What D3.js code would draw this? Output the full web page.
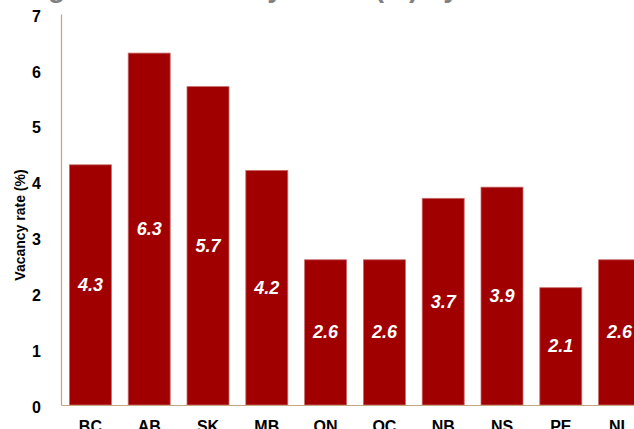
<!DOCTYPE html>
<html>
<head>
<meta charset="utf-8">
<script src="https://cdn.jsdelivr.net/npm/d3@7"></script>
<style>
  html, body { margin: 0; padding: 0; background: #fff; }
  svg { display: block; font-family: Arial, "Liberation Sans", sans-serif; }
</style>
</head>
<body>
<svg id="chart" width="634" height="429"></svg>
<script>
// Apartment vacancy rate by province
const provinces = ["BC", "AB", "SK", "MB", "ON", "QC", "NB", "NS", "PE", "NL"];
const vacancyRates = [4.3, 6.3, 5.7, 4.2, 2.6, 2.6, 3.7, 3.9, 2.1, 2.6];
const yTicks = [0, 1, 2, 3, 4, 5, 6, 7];
const chartTitle = "Housing Market Vacancy Rates (%) by Province";
const yAxisTitle = "Vacancy rate (%)";

const svg = d3.select("#chart");
const plotLeft = 61, plotRight = 649, plotTop = 14, plotBottom = 405;
const axisColor = "#c4a57c";
const barColor = "#a00000";

const x = d3.scaleBand()
  .domain(provinces)
  .range([plotLeft, plotRight])
  .paddingInner(0.286)
  .paddingOuter(0.143);

const y = d3.scaleLinear().domain([0, 7]).range([plotBottom, plotTop]);

// title (sits mostly above the visible area)
svg.append("text")
  .attr("x", -47)
  .attr("y", -3)
  .attr("font-size", 28)
  .attr("font-weight", "bold")
  .attr("fill", "#808080")
  .text(chartTitle);

// bars
svg.append("g")
  .selectAll("rect")
  .data(provinces)
  .join("rect")
  .attr("x", d => x(d))
  .attr("width", x.bandwidth())
  .attr("y", (d, i) => y(vacancyRates[i]))
  .attr("height", (d, i) => y(0) - y(vacancyRates[i]))
  .attr("fill", barColor)
  .attr("stroke", "#c86a6a")
  .attr("stroke-width", 0.8);

// value labels inside bars
svg.append("g")
  .selectAll("text")
  .data(provinces)
  .join("text")
  .attr("x", d => x(d) + x.bandwidth() / 2)
  .attr("y", (d, i) => (y(vacancyRates[i]) + y(0)) / 2 + 6)
  .attr("text-anchor", "middle")
  .attr("font-size", 18)
  .attr("font-weight", "bold")
  .attr("font-style", "italic")
  .attr("fill", "#fff")
  .text((d, i) => vacancyRates[i].toFixed(1));

// y axis
const yAxis = svg.append("g")
  .attr("transform", `translate(${plotLeft},0)`)
  .call(d3.axisLeft(y).tickValues(yTicks).tickSize(0).tickPadding(20).tickFormat(d3.format("d")));
yAxis.select(".domain").attr("stroke", axisColor).attr("stroke-width", 1.2);
yAxis.selectAll("text")
  .attr("font-size", 16)
  .attr("font-weight", "bold")
  .attr("fill", "#000")
  .attr("font-family", "Arial, 'Liberation Sans', sans-serif")
  .attr("dy", "0.45em");

// x axis
const xAxis = svg.append("g")
  .attr("transform", `translate(0,${plotBottom})`)
  .call(d3.axisBottom(x).tickSize(0).tickPadding(16));
xAxis.select(".domain").attr("stroke", axisColor).attr("stroke-width", 1.2);
xAxis.selectAll("text")
  .attr("font-size", 16)
  .attr("font-weight", "bold")
  .attr("fill", "#000")
  .attr("font-family", "Arial, 'Liberation Sans', sans-serif");

// y axis title
svg.append("text")
  .attr("transform", "translate(25,225) rotate(-90)")
  .attr("text-anchor", "middle")
  .attr("font-size", 14)
  .attr("font-weight", "bold")
  .attr("fill", "#000")
  .text(yAxisTitle);
</script>
</body>
</html>
